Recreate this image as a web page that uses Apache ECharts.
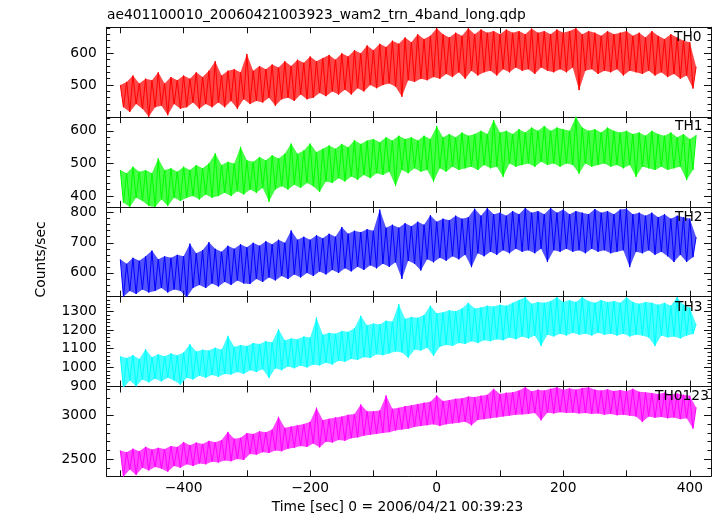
<!DOCTYPE html>
<html><head><meta charset="utf-8">
<script src="https://cdn.jsdelivr.net/npm/echarts@6/dist/echarts.min.js"></script>
<style>html,body{margin:0;padding:0;background:#fff}#c{width:717px;height:516px}</style>
</head><body><div id="c"></div>
<script>
// ---- text ----
const TITLE = 'ae401100010_20060421003923_wam2_trn_4band_long.qdp';
const X_NAME = 'Time [sec] 0 = 2006/04/21 00:39:23';
const Y_NAME = 'Counts/sec';
const BANDS = ['TH0', 'TH1', 'TH2', 'TH3', 'TH0123'];

// ---- data: values sampled every 5 s from t = -500 s, alternating local high / local low ----
const T_START = -500, T_STEP = 5;
const th0 = [
  500,430, 510,415, 530,440, 505,425, 520,400, 515,430, 540,435, 505,405, 525,440, 515,425,
  530,430, 520,445, 540,425, 525,440, 545,430, 575,445, 530,430, 545,450, 550,425, 540,455,
  598,440, 545,450, 560,445, 550,460, 565,435, 555,455, 575,460, 560,450, 580,470, 570,455,
  590,460, 575,475, 585,465, 595,480, 580,470, 600,485, 590,470, 610,490, 600,480, 625,500,
  610,490, 630,500, 620,505, 640,495, 630,463, 650,515, 635,510, 660,520, 645,515, 655,525,
  679,520, 660,535, 650,525, 665,540, 655,520, 679,545, 660,530, 675,540, 665,545, 670,530,
  660,550, 675,540, 665,555, 670,545, 660,550, 678,535, 665,555, 670,545, 660,540, 675,550,
  665,540, 670,555, 679,484, 660,545, 670,550, 665,535, 655,545, 670,540, 660,550, 665,530,
  670,545, 655,540, 665,535, 650,545, 670,530, 655,540, 645,525, 660,535, 650,520, 640,530,
  635,489, 558
];
const th1 = [
  480,380, 470,367, 490,395, 475,385, 480,370, 470,367, 515,390, 480,370, 485,395, 475,385,
  490,395, 480,400, 495,390, 485,405, 500,395, 531,400, 495,410, 505,400, 500,415, 551,405,
  510,420, 505,410, 520,425, 510,383, 525,420, 515,430, 530,420, 561,435, 530,425, 540,440,
  561,430, 535,413, 545,445, 555,440, 545,455, 560,445, 550,460, 571,450, 560,465, 570,455,
  575,470, 565,465, 580,475, 570,431, 585,480, 575,470, 580,485, 570,475, 585,480, 575,444,
  614,485, 580,475, 590,490, 580,480, 595,485, 585,490, 590,480, 600,495, 590,485, 633,490,
  595,459, 600,500, 590,490, 605,495, 595,500, 610,490, 600,505, 615,495, 600,500, 610,490,
  605,500, 600,495, 643,469, 610,500, 600,490, 605,495, 595,500, 610,490, 600,495, 595,485,
  600,495, 590,459, 595,490, 585,485, 600,480, 590,490, 585,480, 595,485, 580,490, 590,449,
  575,480, 587
];
const th2 = [
  645,521, 630,540, 650,530, 640,545, 655,535, 674,540, 645,550, 655,535, 650,545, 660,540,
  655,519, 697,550, 665,560, 675,550, 702,565, 680,555, 670,570, 690,560, 680,575, 695,565,
  685,563, 700,580, 690,570, 705,585, 695,575, 710,590, 700,580, 741,595, 710,585, 720,600,
  710,590, 725,605, 715,595, 730,610, 720,600, 752,615, 730,605, 740,620, 735,610, 745,625,
  740,615, 810,630, 750,620, 760,635, 750,580, 765,640, 755,630, 770,608, 760,645, 791,635,
  770,650, 780,640, 775,655, 790,645, 780,660, 785,619, 813,665, 790,655, 815,670, 795,660,
  800,675, 790,665, 805,680, 795,670, 815,675, 800,665, 805,680, 795,636, 815,675, 800,670,
  810,680, 795,670, 805,675, 800,665, 795,680, 812,670, 800,675, 805,665, 795,670, 810,675,
  813,619, 795,670, 800,665, 790,675, 800,660, 785,670, 795,655, 780,636, 790,660, 785,636,
  780,652, 719
];
const th3 = [
  1060,890, 1050,930, 1065,899, 1045,935, 1097,920, 1055,940, 1070,925, 1060,945, 1075,930, 1065,908,
  1080,945, 1124,935, 1085,955, 1095,945, 1090,960, 1105,950, 1095,965, 1169,962, 1110,975, 1120,965,
  1115,985, 1130,975, 1125,990, 1140,944, 1135,995, 1205,985, 1145,1005, 1155,995, 1150,1010, 1165,1000,
  1160,1015, 1267,1010, 1175,1025, 1185,1015, 1180,1035, 1195,1030, 1190,1045, 1210,1040, 1276,1055, 1225,1050,
  1235,1070, 1230,1065, 1250,1075, 1245,1085, 1339,1080, 1260,1052, 1270,1095, 1265,1090, 1280,1105, 1330,1061,
  1290,1110, 1295,1120, 1305,1115, 1300,1130, 1315,1125, 1345,1140, 1315,1130, 1320,1145, 1330,1140, 1325,1150,
  1335,1145, 1330,1160, 1345,1150, 1360,1165, 1375,1155, 1340,1170, 1350,1115, 1345,1175, 1355,1165, 1375,1180,
  1350,1170, 1360,1185, 1350,1175, 1375,1180, 1355,1170, 1345,1185, 1360,1175, 1350,1180, 1355,1170, 1345,1180,
  1375,1165, 1350,1175, 1340,1170, 1350,1160, 1345,1115, 1335,1170, 1345,1160, 1330,1165, 1375,1155, 1335,1170,
  1320,1178, 1232
];
const th0123 = [
  2600,2298, 2580,2380, 2620,2317, 2590,2400, 2641,2370, 2610,2410, 2630,2390, 2615,2355, 2650,2420, 2640,2400,
  2698,2440, 2660,2420, 2690,2450, 2675,2440, 2710,2470, 2695,2460, 2720,2485, 2813,2475, 2735,2500, 2745,2490,
  2800,2560, 2790,2550, 2820,2580, 2810,2570, 2840,2600, 2987,2590, 2860,2620, 2875,2630, 2890,2650, 2905,2640,
  2930,2680, 3092,2634, 2950,2700, 2965,2690, 2980,2720, 2990,2710, 3010,2740, 3020,2750, 3130,2770, 3050,2780,
  3050,2790, 3060,2800, 3233,2810, 3080,2830, 3090,2840, 3110,2850, 3120,2870, 3135,2880, 3150,2890, 3160,2900,
  3233,2880, 3170,2900, 3180,2910, 3195,2920, 3200,2930, 3220,2889, 3215,2950, 3230,2960, 3240,2970, 3309,2980,
  3250,2990, 3265,3000, 3270,3010, 3290,3015, 3328,3020, 3280,3030, 3300,2947, 3290,3035, 3310,3025, 3328,3040,
  3300,3030, 3315,3035, 3300,3025, 3320,3030, 3328,3020, 3300,3025, 3290,3010, 3305,3020, 3285,3005, 3295,3010,
  3280,3000, 3310,2990, 3275,2928, 3270,2990, 3260,2975, 3250,2985, 3265,2970, 3245,2980, 3255,2960, 3240,2970,
  3230,2851, 3095
];
const SERIES_DATA = [th0, th1, th2, th3, th0123];

// ---- axes / ticks ----
const X_MIN = -521.5, X_MAX = 433.5;
const X_TICKS = [-500, -400, -300, -200, -100, 0, 100, 200, 300, 400];
const X_LABELS = [-400, -200, 0, 200, 400];
const Y_RANGES = [[399, 682], [367, 642], [521, 819], [898, 1378], [2302, 3336]];
const Y_MAJOR = [100, 100, 100, 100, 500];
const Y_MINOR = [20, 20, 20, 20, 100];
const Y_LABELS = [[500, 600], [400, 500, 600], [600, 700, 800], [900, 1000, 1100, 1200, 1300], [2500, 3000]];

// ---- styles ----
const COLORS = ['#ff0000', '#00ff00', '#0000ff', '#00ffff', '#ff00ff'];
const FILLS = ['rgba(255,0,0,0.72)', 'rgba(0,255,0,0.72)', 'rgba(0,0,255,0.68)', 'rgba(0,255,255,0.72)', 'rgba(255,0,255,0.72)'];
const FONT = '"DejaVu Sans", sans-serif';
const FS = 13.8;
const LINE = '#111';
const PLOT_LEFT = 106.7, PLOT_RIGHT = 6, TOP0 = 27.3, PANEL_H = 89.8;
const LABEL_POS = [[674, 37.6], [675, 126.9], [675, 217.3], [675, 307.3], [655, 396.2]];

function fmt(v) { return v < 0 ? '\u2212' + (-v) : String(v); }
function multiples(lo, hi, step, excludeStep) {
  const out = [];
  for (let v = Math.ceil(lo / step) * step; v <= hi; v += step) {
    if (excludeStep && v % excludeStep === 0) continue;
    out.push(v);
  }
  return out;
}

const grids = [], xAxes = [], yAxes = [], series = [];
for (let i = 0; i < 5; i++) {
  grids.push({ left: PLOT_LEFT, right: PLOT_RIGHT, top: TOP0 + i * PANEL_H, height: PANEL_H, containLabel: false, outerBoundsMode: 'none' });
  ['bottom', 'top'].forEach(pos => {
    xAxes.push({
      type: 'value', gridIndex: i, position: pos, min: X_MIN, max: X_MAX,
      axisLine: { show: true, onZero: false, lineStyle: { color: LINE, width: 1 } },
      axisTick: { show: true, inside: true, length: 6, customValues: X_TICKS, lineStyle: { color: LINE } },
      axisLabel: { show: i === 4 && pos === 'bottom', customValues: X_LABELS, margin: 5, color: '#000', fontSize: FS, fontFamily: FONT, formatter: fmt },
      splitLine: { show: false }
    });
  });
  const [ymin, ymax] = Y_RANGES[i];
  const majors = multiples(ymin, ymax, Y_MAJOR[i]);
  const minors = multiples(ymin, ymax, Y_MINOR[i], Y_MAJOR[i]);
  [['left', false], ['right', false], ['left', true], ['right', true]].forEach(([pos, minor]) => {
    yAxes.push({
      type: 'value', gridIndex: i, position: pos, min: ymin, max: ymax,
      axisLine: { show: !minor, onZero: false, lineStyle: { color: LINE, width: 1 } },
      axisTick: { show: true, inside: true, length: minor ? 3.5 : 7, customValues: minor ? minors : majors, lineStyle: { color: LINE } },
      axisLabel: { show: !minor && pos === 'left', customValues: Y_LABELS[i], margin: 10, color: '#000', fontSize: FS, fontFamily: FONT, formatter: fmt },
      splitLine: { show: false }
    });
  });
  const pts = SERIES_DATA[i].map((v, k) => [T_START + k * T_STEP, v]);
  const upper = pts.filter((p, k) => k % 2 === 0);
  const lower = pts.filter((p, k) => k % 2 === 1);
  const poly = upper.concat(lower.slice().reverse());
  const fill = FILLS[i];
  series.push({
    type: 'custom', coordinateSystem: 'cartesian2d', xAxisIndex: 2 * i, yAxisIndex: 4 * i,
    data: [[pts[0][0], pts[0][1]]], silent: true, clip: true, z: 1,
    renderItem: (params, api) => ({
      type: 'polygon',
      shape: { points: poly.map(p => api.coord(p)) },
      style: { fill: fill, stroke: null }
    })
  });
  series.push({ type: 'line', xAxisIndex: 2 * i, yAxisIndex: 4 * i, data: pts, symbol: 'none', clip: true, z: 2,
    lineStyle: { width: 1, color: COLORS[i] } });
}

const txt = (x, y, text, align, extra) => Object.assign({
  type: 'text', x: x, y: y, silent: true,
  style: { text: text, fill: '#000', fontSize: FS, fontFamily: FONT, align: align, verticalAlign: 'middle' }
}, extra || {});

const graphic = [
  txt(107, 15.5, TITLE, 'left'),
  txt(397.5, 507, X_NAME, 'center'),
  txt(41.5, 259.4, Y_NAME, 'center', { rotation: Math.PI / 2 })
];
BANDS.forEach((b, i) => graphic.push(txt(LABEL_POS[i][0], LABEL_POS[i][1], b, 'left', { z: 100 })));

const chart = echarts.init(document.getElementById('c'), null, { renderer: 'canvas' });
chart.setOption({
  animation: false,
  backgroundColor: '#fff',
  grid: grids,
  xAxis: xAxes,
  yAxis: yAxes,
  series: series,
  graphic: graphic
});
</script>
</body></html>
